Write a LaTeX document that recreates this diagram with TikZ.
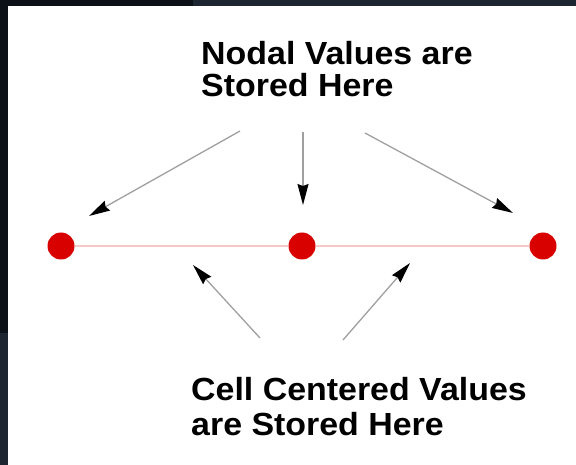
\documentclass[tikz,border=0pt]{standalone}
\usepackage{fontspec}
\setmainfont{Liberation Sans}
\newfontfamily\notefont{Liberation Sans}[FakeStretch=1.06]
\usetikzlibrary{arrows.meta}
\definecolor{framedark}{HTML}{0C1117}
\definecolor{framenavy}{HTML}{1C2530}
\definecolor{dotred}{HTML}{D90000}
\definecolor{linkpink}{HTML}{F7C6C6}
\definecolor{arrowgray}{HTML}{A0A0A0}
\begin{document}
\begin{tikzpicture}[x=1pt,y=-1pt,
  dot/.style={circle,fill=dotred,minimum size=27pt,inner sep=0pt},
  pointer/.style={draw=arrowgray,line width=1.3pt,-{Stealth[length=21pt,width=11pt,inset=2pt,color=black]}},
  notetext/.style={font=\notefont\bfseries\fontsize{32}{32}\selectfont,align=left,inner sep=0pt,anchor=base west}]
\useasboundingbox (0,0) rectangle (576,465);
\fill[framedark] (0,0) rectangle (576,465);
\fill[framenavy] (193,0) rectangle (576,6);
\fill[framenavy] (0,333) rectangle (8,465);
\fill[white] (8,6) rectangle (576,465);

\node[dot] (d1) at (61,246) {};
\node[dot] (d2) at (302,246) {};
\node[dot] (d3) at (543,246) {};
\draw[linkpink,line width=2pt] (d1) -- (d2) -- (d3);

\node[notetext,font=\notefont\bfseries\fontsize{32}{32}\selectfont] (top) at (201,97) {Nodal Values are\\Stored Here};
\node[notetext,font=\notefont\bfseries\fontsize{32}{35}\selectfont] (bot) at (191,435) {Cell Centered Values\\are Stored Here};

\coordinate (a1s) at (240,131); \coordinate (a1e) at (89,216);
\coordinate (a2s) at (303,132); \coordinate (a2e) at (303,205);
\coordinate (a3s) at (365,133); \coordinate (a3e) at (513,213);
\coordinate (a4s) at (260,338); \coordinate (a4e) at (193,265);
\coordinate (a5s) at (343,340); \coordinate (a5e) at (410,263);
\draw[pointer] (a1s) -- (a1e);
\draw[pointer] (a2s) -- (a2e);
\draw[pointer] (a3s) -- (a3e);
\draw[pointer] (a4s) -- (a4e);
\draw[pointer] (a5s) -- (a5e);
\end{tikzpicture}
\end{document}
